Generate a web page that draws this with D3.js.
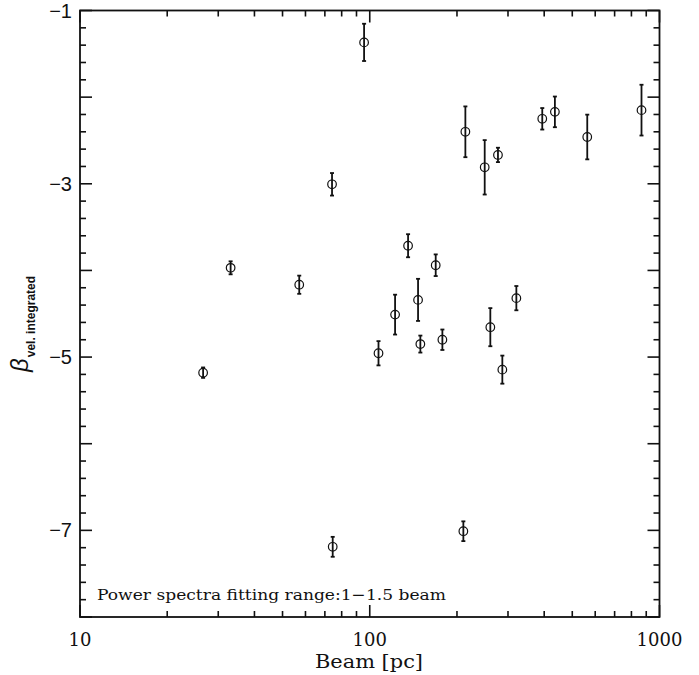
<!DOCTYPE html>
<html><head><meta charset="utf-8">
<script src="https://cdn.jsdelivr.net/npm/d3@7"></script>
<style>body{margin:0;background:#fff}svg{display:block}</style>
</head><body><svg id="c" width="699" height="675"></svg>
<script>
const beam = [26.6,33.1,57.1,74.1,74.5,95.6,107.2,122.3,135.6,146.8,149.5,168.9,178.1,210.4,213.8,249.3,277.0,260.7,286.8,320.6,393.9,435.5,563.2,866.7];
const beta = [-5.18,-3.97,-4.165,-3.006,-7.19,-1.368,-4.956,-4.51,-3.715,-4.34,-4.85,-3.94,-4.80,-7.01,-2.40,-2.81,-2.667,-4.655,-5.145,-4.32,-2.25,-2.17,-2.46,-2.15];
const betaErr = [0.06,0.075,0.105,0.13,0.115,0.215,0.14,0.23,0.133,0.243,0.098,0.125,0.118,0.114,0.293,0.314,0.083,0.22,0.162,0.14,0.124,0.177,0.258,0.293];
const xTickLabels = [10,100,1000];
const yTickLabels = [-1,-3,-5,-7];
const noteText = "Power spectra fitting range:1\u22121.5 beam";
const xTitle = "Beam [pc]";

const svg = d3.select("#c");
const L=80, R=659.5, T=10.5, B=617;
const x = d3.scaleLog().domain([10,1000]).range([L,R]);
const y = d3.scaleLinear().domain([-8,-1]).range([B,T]);
const ink = "#111";
const SERIF = "'DejaVu Serif', 'Liberation Serif', serif";
const SANS = "'Liberation Sans', 'DejaVu Sans', sans-serif";

const xMinor = [];
for (const d of [10,100]) for (let k=2;k<=9;k++) xMinor.push(d*k);
const yMinor = d3.range(-8,-1.0001,0.2).map(v=>+v.toFixed(1)).filter(v=>Math.abs(v-Math.round(v))>1e-6);
const yMajor = d3.range(-8,-0.999,1);

const g = svg.append("g").attr("stroke",ink).attr("stroke-width",1.6).attr("fill","none");
function xt(vals,len){
  vals.forEach(v=>{
    g.append("line").attr("x1",x(v)).attr("x2",x(v)).attr("y1",B).attr("y2",B-len);
    g.append("line").attr("x1",x(v)).attr("x2",x(v)).attr("y1",T).attr("y2",T+len);
  });
}
function yt(vals,len){
  vals.forEach(v=>{
    g.append("line").attr("y1",y(v)).attr("y2",y(v)).attr("x1",L).attr("x2",L+len);
    g.append("line").attr("y1",y(v)).attr("y2",y(v)).attr("x1",R).attr("x2",R-len);
  });
}
xt(xMinor,6); xt(xTickLabels,12);
yt(yMinor,6); yt(yMajor,12);
g.append("rect").attr("x",L).attr("y",T).attr("width",R-L).attr("height",B-T).attr("stroke-width",1.8);

svg.append("g").selectAll("text").data(xTickLabels).join("text")
  .attr("x",d=>x(d)).attr("y",646).attr("text-anchor","middle")
  .style("font-family",SERIF).attr("font-size",18).attr("fill",ink)
  .text(d=>d);
svg.append("g").selectAll("text").data(yTickLabels).join("text")
  .attr("x",72).attr("y",d=>y(d)+7).attr("text-anchor","end")
  .style("font-family",SANS).attr("font-size",20).attr("fill",ink)
  .text(d=>"\u2212"+Math.abs(d));

const pts = beam.map((b,i)=>({b,v:beta[i],e:betaErr[i]}));
const dg = svg.append("g").attr("stroke",ink).attr("fill","none");
pts.forEach(p=>{
  const cx=x(p.b), y1=y(p.v+p.e), y2=y(p.v-p.e);
  dg.append("line").attr("x1",cx).attr("x2",cx).attr("y1",y1).attr("y2",y2).attr("stroke-width",1.8);
  dg.append("line").attr("x1",cx-2).attr("x2",cx+2).attr("y1",y1).attr("y2",y1).attr("stroke-width",1.8);
  dg.append("line").attr("x1",cx-2).attr("x2",cx+2).attr("y1",y2).attr("y2",y2).attr("stroke-width",1.8);
  dg.append("circle").attr("cx",cx).attr("cy",y(p.v)).attr("r",4.3).attr("stroke-width",1.2);
});

svg.append("text").attr("x",97).attr("y",600).style("font-family",SERIF)
  .attr("font-size",15.5).attr("fill",ink).attr("textLength",349).attr("lengthAdjust","spacingAndGlyphs")
  .text(noteText);

svg.append("text").attr("x",369).attr("y",668).attr("text-anchor","middle")
  .style("font-family",SERIF).attr("font-size",19).attr("fill",ink)
  .attr("textLength",108).attr("lengthAdjust","spacingAndGlyphs").text(xTitle);

const yt2 = svg.append("text").attr("transform","translate(28,372) rotate(-90)").attr("fill",ink);
yt2.append("tspan").style("font-family",SANS).attr("font-style","italic").attr("font-size",24).text("\u03B2");
yt2.append("tspan").style("font-family",SANS).attr("font-weight","bold").attr("font-size",12).attr("dy",7).attr("dx",1).text("vel. integrated");
</script></body></html>
